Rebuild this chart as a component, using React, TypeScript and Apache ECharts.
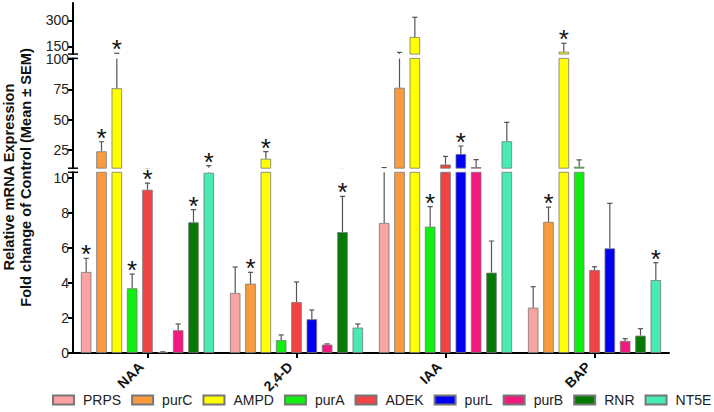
import React, { useEffect, useRef } from 'react';
import * as echarts from 'echarts';

const categories = ['NAA', '2,4-D', 'IAA', 'BAP'];
const genes = ['PRPS', 'purC', 'AMPD', 'purA', 'ADEK', 'purL', 'purB', 'RNR', 'NT5E'];
const geneColors = ['#F9A3A3', '#F99B3E', '#FFFF00', '#11EE11', '#F04343', '#0000F0', '#F0197F', '#047A04', '#48EBB1'];

// Mean fold change per gene, in category order NAA, 2,4-D, IAA, BAP
const PRPS = [4.63, 3.43, 7.43, 2.59];
const purC = [23.9, 3.96, 76.3, 7.49];
const AMPD = [75.9, 17.8, 203.8, 118.7];
const purA = [3.7, 0.74, 7.22, 11.2];
const ADEK = [9.33, 2.91, 13.0, 4.74];
const purL = [0.05, 1.93, 21.7, 5.98];
const purB = [1.3, 0.48, 10.9, 0.69];
const RNR = [7.47, 6.91, 4.59, 0.99];
const NT5E = [10.3, 1.45, 32.2, 4.17];

// SEM per gene
const PRPS_sem = [0.78, 1.48, 3.0, 1.2];
const purC_sem = [7.9, 0.65, 38.7, 0.85];
const AMPD_sem = [33.6, 5.8, 114.2, 48.7];
const purA_sem = [0.81, 0.29, 1.14, 5.6];
const ADEK_sem = [0.38, 1.15, 6.8, 0.19];
const purL_sem = [0.02, 0.53, 6.6, 2.57];
const purB_sem = [0.36, 0.04, 6.1, 0.13];
const RNR_sem = [0.72, 2.04, 1.81, 0.4];
const NT5E_sem = [1.8, 0.21, 15.6, 0.99];

// significance (*) flags
const PRPS_sig = [1, 0, 0, 0];
const purC_sig = [1, 1, 0, 1];
const AMPD_sig = [1, 1, 0, 1];
const purA_sig = [1, 0, 1, 0];
const ADEK_sig = [1, 0, 0, 0];
const purL_sig = [0, 0, 1, 0];
const purB_sig = [0, 0, 0, 0];
const RNR_sig = [1, 1, 0, 0];
const NT5E_sig = [1, 0, 0, 1];

// broken y axis tick labels
const lowTicks = [0, 2, 4, 6, 8, 10];
const midTicks = [25, 50, 75, 100];
const topTicks = [150, 300];

const means = [PRPS, purC, AMPD, purA, ADEK, purL, purB, RNR, NT5E];
const sems = [PRPS_sem, purC_sem, AMPD_sem, purA_sem, ADEK_sem, purL_sem, purB_sem, RNR_sem, NT5E_sem];
const sigs = [PRPS_sig, purC_sig, AMPD_sig, purA_sig, ADEK_sig, purL_sig, purB_sig, RNR_sig, NT5E_sig];

const BAR_W = 10.5;
const BAR_GAP = 0.46;
const PITCH = BAR_W * (1 + BAR_GAP);
const FONT = 'Arial, "Liberation Sans", Helvetica, sans-serif';

const SEGS = [
  { min: 0, max: 10.326, top: 172.3, height: 180.7, ticks: lowTicks },
  { min: 10, max: 100.5, top: 58.4, height: 109.8, ticks: midTicks },
  { min: 105, max: 400, top: 3.1, height: 50.97, ticks: topTicks },
];

export default function App() {
  const ref = useRef<HTMLDivElement>(null);
  useEffect(() => {
    if (!ref.current) return;
    const chart = echarts.init(ref.current, null, { renderer: 'svg' });

    const grids: any[] = [];
    const xAxes: any[] = [];
    const yAxes: any[] = [];
    const series: any[] = [];

    SEGS.forEach((seg, si) => {
      grids.push({ left: 73, right: 45, top: seg.top, height: seg.height });
      xAxes.push({
        type: 'category',
        gridIndex: si,
        data: categories,
        show: si === 0,
        axisLine: { show: true, lineStyle: { color: '#000', width: 2 } },
        axisTick: { show: true, alignWithLabel: true, length: 5, lineStyle: { color: '#000', width: 2 } },
        axisLabel: {
          rotate: 45,
          margin: 5,
          padding: [0, 9, 0, 0],
          fontSize: 14,
          fontWeight: 'bold',
          color: '#111',
          fontFamily: FONT,
        },
      });
      yAxes.push({
        type: 'value',
        gridIndex: si,
        min: seg.min,
        max: seg.max,
        splitLine: { show: false },
        axisLine: { show: true, lineStyle: { color: '#000', width: 2 } },
        axisTick: { show: true, length: 5, customValues: seg.ticks, lineStyle: { color: '#000', width: 2 } },
        axisLabel: {
          customValues: seg.ticks,
          fontSize: 14,
          lineHeight: 12,
          color: '#222',
          margin: 4,
          fontFamily: FONT,
        },
      });

      genes.forEach((g, gi) => {
        series.push({
          type: 'bar',
          name: g,
          xAxisIndex: si,
          yAxisIndex: si,
          barWidth: BAR_W,
          barGap: BAR_GAP * 100 + '%',
          clip: true,
          itemStyle: { color: geneColors[gi], borderColor: '#777', borderWidth: 0.8 },
          data: means[gi].map((v) => (si === 0 || v > seg.min ? v : '-')),
        });
      });

      const errData: any[] = [];
      const starData: any[] = [];
      genes.forEach((g, gi) => {
        categories.forEach((c, ci) => {
          const m = means[gi][ci];
          const e = m + sems[gi][ci];
          errData.push([ci, gi, m, e]);
          if (sigs[gi][ci] && e >= seg.min && e <= seg.max) starData.push([ci, gi, e]);
        });
      });

      series.push({
        type: 'custom',
        xAxisIndex: si,
        yAxisIndex: si,
        clip: true,
        silent: true,
        encode: { x: 0, y: 2 },
        data: errData,
        renderItem: (params: any, api: any) => {
          const ci = api.value(0);
          const gi = api.value(1);
          const m = api.value(2);
          const e = api.value(3);
          const p0 = api.coord([ci, m]);
          const p1 = api.coord([ci, e]);
          const x = p0[0] + (gi - 4) * PITCH;
          const st = { stroke: '#555', lineWidth: 1.2 };
          return {
            type: 'group',
            children: [
              { type: 'line', shape: { x1: x, y1: p0[1], x2: x, y2: p1[1] }, style: st },
              { type: 'line', shape: { x1: x - 2.6, y1: p1[1], x2: x + 2.6, y2: p1[1] }, style: st },
            ],
          };
        },
      });

      series.push({
        type: 'custom',
        xAxisIndex: si,
        yAxisIndex: si,
        clip: false,
        silent: true,
        encode: { x: 0, y: 2 },
        data: starData,
        renderItem: (params: any, api: any) => {
          const ci = api.value(0);
          const gi = api.value(1);
          const e = api.value(2);
          const p = api.coord([ci, e]);
          const x = p[0] + (gi - 4) * PITCH;
          return {
            type: 'text',
            x: x,
            y: p[1] - 4,
            style: {
              text: '*',
              fontSize: 26,
              fontFamily: FONT,
              fill: '#111',
              align: 'center',
              verticalAlign: 'middle',
            },
          };
        },
      });
    });

    const breakY = [SEGS[0].top, SEGS[1].top + SEGS[1].height, SEGS[1].top, SEGS[2].top + SEGS[2].height];

    chart.setOption({
      animation: false,
      backgroundColor: '#fff',
      grid: grids,
      xAxis: xAxes,
      yAxis: yAxes,
      series,
      legend: {
        data: genes,
        left: 52,
        top: 393,
        width: 690,
        padding: 0,
        icon: 'rect',
        itemWidth: 21,
        itemHeight: 9,
        itemGap: 10,
        selectedMode: false,
        textStyle: { fontSize: 14, color: '#222', fontFamily: FONT, padding: [0, 0, 0, 4] },
      },
      graphic: [
        ...breakY.map((y) => ({
          type: 'line',
          shape: { x1: 68, y1: y, x2: 78, y2: y },
          style: { stroke: '#000', lineWidth: 1.5 },
        })),
        {
          type: 'text',
          x: 9,
          y: 177,
          rotation: Math.PI / 2,
          style: {
            text: 'Relative mRNA Expression',
            fontSize: 14.6,
            fontWeight: 'bold',
            fontFamily: FONT,
            fill: '#111',
            align: 'center',
            verticalAlign: 'middle',
          },
        },
        {
          type: 'text',
          x: 26,
          y: 177.5,
          rotation: Math.PI / 2,
          style: {
            text: 'Fold change of Control (Mean ± SEM)',
            fontSize: 14.6,
            fontWeight: 'bold',
            fontFamily: FONT,
            fill: '#111',
            align: 'center',
            verticalAlign: 'middle',
          },
        },
      ],
    });

    return () => chart.dispose();
  }, []);

  return (
    <div
      ref={ref}
      style={{ position: 'fixed', left: 0, top: 0, width: 714, height: 412, background: '#fff' }}
    />
  );
}
